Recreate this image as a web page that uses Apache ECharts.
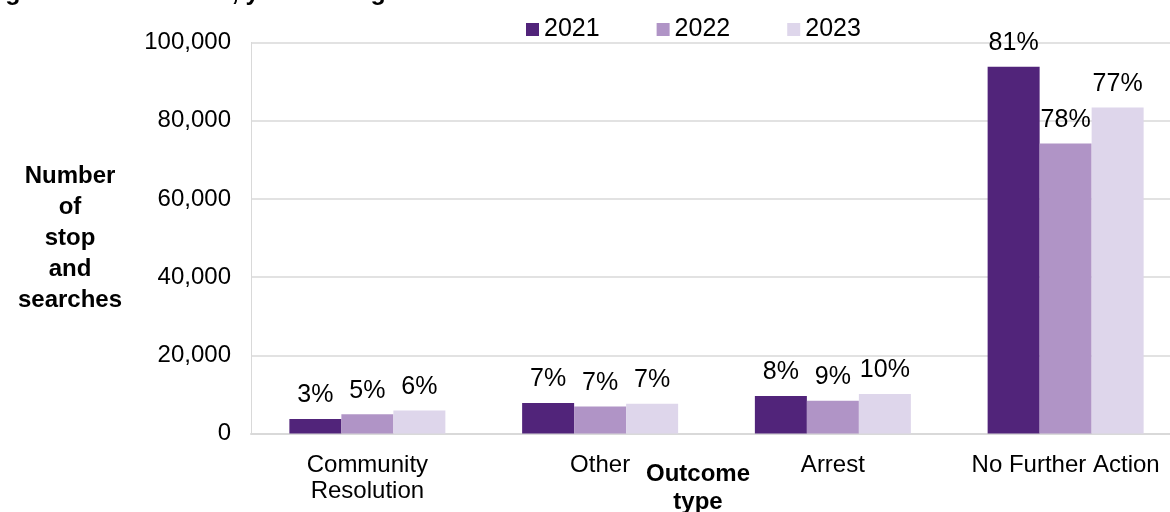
<!DOCTYPE html>
<html>
<head>
    <meta charset="utf-8">
    <title>ECharts</title>
    <script src="https://cdn.jsdelivr.net/npm/echarts@6/dist/echarts.min.js"></script>
</head>
<body style="margin:0">
    <div id="main" style="width: 1170px;height:512px;"></div>
    <script type="text/javascript">
        var categories = ['Community\nResolution', 'Other', 'Arrest', 'No Further Action'];
        var years = ['2021', '2022', '2023'];
        var values2021 = [3700, 7800, 9600, 93800];
        var values2022 = [4900, 6900, 8400, 74200];
        var values2023 = [5900, 7600, 10100, 83400];
        var pct2021 = ['3%', '7%', '8%', '81%'];
        var pct2022 = ['5%', '7%', '9%', '78%'];
        var pct2023 = ['6%', '7%', '10%', '77%'];
        var colors = ['#51247a', '#b094c6', '#ded6eb'];

        var font = 'Liberation Sans, Arial, sans-serif';
        var myChart = echarts.init(document.getElementById('main'));

        function makeSeries(name, values, pcts, color) {
            return {
                name: name,
                type: 'bar',
                barWidth: 52,
                barGap: 0,
                itemStyle: { color: color },
                label: {
                    show: true,
                    position: 'top',
                    distance: 11,
                    fontSize: 25,
                    fontFamily: font,
                    color: '#000',
                    formatter: function (p) { return pcts[p.dataIndex]; }
                },
                data: values
            };
        }

        var option = {
            animation: false,
            textStyle: { fontFamily: font },
            title: {
                text: 'Figure 10: Outcomes, year ending March 2021 to 2023',
                left: -17,
                top: -19,
                padding: 0,
                textStyle: { fontSize: 25, fontWeight: 'bold', color: '#000', fontFamily: font }
            },
            legend: {
                data: years,
                left: 521,
                top: 12,
                icon: 'rect',
                itemWidth: 13,
                itemHeight: 13,
                itemGap: 57,
                textStyle: { fontSize: 25, color: '#000', fontFamily: font }
            },
            grid: {
                left: 251,
                right: -12,
                top: 42.5,
                bottom: 78.5,
                containLabel: false,
                outerBoundsMode: 'none'
            },
            xAxis: {
                type: 'category',
                data: categories,
                axisLine: { lineStyle: { color: '#d9d9d9', width: 2 } },
                axisTick: { show: false },
                axisLabel: {
                    interval: 0,
                    fontSize: 24,
                    color: '#000',
                    lineHeight: 26,
                    margin: 19,
                    fontFamily: font
                },
                name: 'Outcome\ntype',
                nameLocation: 'middle',
                nameGap: 27,
                nameMoveOverlap: false,
                nameTextStyle: {
                    fontSize: 24,
                    fontWeight: 'bold',
                    color: '#000',
                    lineHeight: 28,
                    align: 'center',
                    verticalAlign: 'top',
                    padding: [0, 37, 0, 0],
                    fontFamily: font
                }
            },
            yAxis: {
                type: 'value',
                min: 0,
                max: 100000,
                interval: 20000,
                axisLine: { show: true, lineStyle: { color: '#d9d9d9', width: 1 } },
                axisTick: { show: false },
                splitLine: { lineStyle: { color: '#d9d9d9', width: 1.5 } },
                axisLabel: {
                    fontSize: 24,
                    color: '#000',
                    margin: 20,
                    fontFamily: font,
                    formatter: function (v) { return v.toLocaleString('en-US'); }
                },
                name: 'Number\nof\nstop\nand\nsearches',
                nameLocation: 'middle',
                nameRotate: 0,
                nameGap: 181,
                nameMoveOverlap: false,
                nameTextStyle: {
                    fontSize: 24,
                    fontWeight: 'bold',
                    color: '#000',
                    lineHeight: 31,
                    align: 'center',
                    verticalAlign: 'middle',
                    fontFamily: font
                }
            },
            series: [
                makeSeries(years[0], values2021, pct2021, colors[0]),
                makeSeries(years[1], values2022, pct2022, colors[1]),
                makeSeries(years[2], values2023, pct2023, colors[2])
            ]
        };

        myChart.setOption(option);
    </script>
</body>
</html>
